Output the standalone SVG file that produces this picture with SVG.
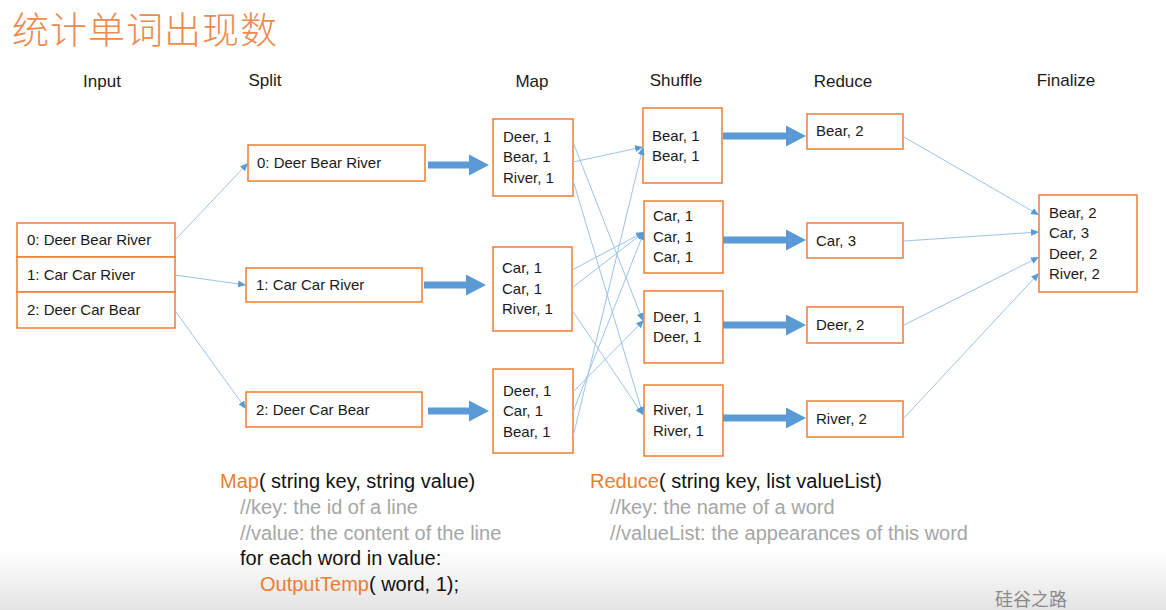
<svg xmlns="http://www.w3.org/2000/svg" width="1166" height="610" viewBox="0 0 1166 610">
<style>
.box{fill:#fff;stroke:#ED7D31;stroke-width:1.5}
.t{font-family:"Liberation Sans",Arial,sans-serif;font-size:15px;fill:#1a1a1a}
.h{font-family:"Liberation Sans",Arial,sans-serif;font-size:17px;fill:#1a1a1a;text-anchor:middle}
.c{font-family:"Liberation Sans",Arial,sans-serif;font-size:20px;fill:#111}
.g{fill:#a6a6a6}
.o{fill:#ED7D31}
.ln{stroke:#9dc3e6;stroke-width:1;fill:none;marker-end:url(#ah)}
.fat{fill:#5b9bd5}
</style>
<defs>
<marker id="ah" markerUnits="userSpaceOnUse" markerWidth="9" markerHeight="8" refX="8" refY="4" orient="auto">
<path d="M0,0.5 L8,4 L0,7.5 Z" fill="#5b9bd5"/>
</marker>
<linearGradient id="bg" x1="0" y1="0" x2="0" y2="1">
<stop offset="0" stop-color="#ffffff"/>
<stop offset="1" stop-color="#e4e4e4"/>
</linearGradient>
</defs>
<rect x="0" y="0" width="1166" height="610" fill="#fff"/>
<rect x="0" y="550" width="1166" height="60" fill="url(#bg)"/>

<text x="12" y="44" font-family="'Noto Sans CJK SC',sans-serif" font-weight="300" font-size="37" letter-spacing="1" fill="#EE8A4E">统计单词出现数</text>

<g id="headers">
<text class="h" x="102" y="87">Input</text>
<text class="h" x="265" y="86">Split</text>
<text class="h" x="532" y="87">Map</text>
<text class="h" x="676" y="86">Shuffle</text>
<text class="h" x="843" y="87">Reduce</text>
<text class="h" x="1066" y="86">Finalize</text>
</g>

<g id="input">
<rect class="box" x="17" y="223" width="158" height="34"/>
<rect class="box" x="17" y="257" width="158" height="35"/>
<rect class="box" x="17" y="292" width="158" height="36"/>
<text class="t" x="27" y="245">0: Deer Bear River</text>
<text class="t" x="27" y="280">1: Car Car River</text>
<text class="t" x="27" y="315">2: Deer Car Bear</text>
</g>

<g id="split0"><rect class="box" x="248" y="145" width="177" height="36"/><text class="t" x="257" y="168">0: Deer Bear River</text></g>
<g id="split1"><rect class="box" x="246" y="268" width="176" height="34"/><text class="t" x="256" y="290">1: Car Car River</text></g>
<g id="split2"><rect class="box" x="246" y="392" width="176" height="35"/><text class="t" x="256" y="415">2: Deer Car Bear</text></g>

<g id="map1"><rect class="box" x="493" y="119" width="80" height="77"/>
<text class="t" x="503" y="142">Deer, 1</text><text class="t" x="503" y="162">Bear, 1</text><text class="t" x="503" y="183">River, 1</text></g>
<g id="map2"><rect class="box" x="493" y="247" width="79" height="84"/>
<text class="t" x="502" y="273">Car, 1</text><text class="t" x="502" y="294">Car, 1</text><text class="t" x="502" y="314">River, 1</text></g>
<g id="map3"><rect class="box" x="493" y="369" width="80" height="84"/>
<text class="t" x="503" y="396">Deer, 1</text><text class="t" x="503" y="416">Car, 1</text><text class="t" x="503" y="437">Bear, 1</text></g>

<g id="shuf1"><rect class="box" x="643" y="108" width="79" height="75"/>
<text class="t" x="652" y="141">Bear, 1</text><text class="t" x="652" y="161">Bear, 1</text></g>
<g id="shuf2"><rect class="box" x="644" y="201" width="79" height="72"/>
<text class="t" x="653" y="221">Car, 1</text><text class="t" x="653" y="242">Car, 1</text><text class="t" x="653" y="262">Car, 1</text></g>
<g id="shuf3"><rect class="box" x="644" y="291" width="79" height="72"/>
<text class="t" x="653" y="322">Deer, 1</text><text class="t" x="653" y="342">Deer, 1</text></g>
<g id="shuf4"><rect class="box" x="644" y="385" width="79" height="71"/>
<text class="t" x="653" y="415">River, 1</text><text class="t" x="653" y="436">River, 1</text></g>

<g id="red1"><rect class="box" x="807" y="114" width="96" height="35"/><text class="t" x="816" y="136">Bear, 2</text></g>
<g id="red2"><rect class="box" x="807" y="223" width="96" height="35"/><text class="t" x="816" y="246">Car, 3</text></g>
<g id="red3"><rect class="box" x="807" y="307" width="96" height="36"/><text class="t" x="816" y="330">Deer, 2</text></g>
<g id="red4"><rect class="box" x="807" y="401" width="96" height="36"/><text class="t" x="816" y="424">River, 2</text></g>

<g id="final"><rect class="box" x="1039" y="195" width="98" height="97"/>
<text class="t" x="1049" y="218">Bear, 2</text><text class="t" x="1049" y="238">Car, 3</text><text class="t" x="1049" y="259">Deer, 2</text><text class="t" x="1049" y="279">River, 2</text></g>

<g id="connectors">
<line class="ln" x1="175" y1="240" x2="248" y2="163"/>
<line class="ln" x1="175" y1="275" x2="246" y2="285"/>
<line class="ln" x1="176" y1="312" x2="246" y2="409"/>

<polygon class="fat" points="428,161.5 469,161.5 469,154.5 489,165 469,175.5 469,168.5 428,168.5"/>
<polygon class="fat" points="424,281.5 466,281.5 466,274.5 486,285 466,295.5 466,288.5 424,288.5"/>
<polygon class="fat" points="428,407.5 469,407.5 469,400.5 489,411 469,421.5 469,414.5 428,414.5"/>

<line class="ln" x1="573" y1="162" x2="643" y2="147"/>
<line class="ln" x1="573" y1="142" x2="643" y2="321"/>
<line class="ln" x1="573" y1="180" x2="643" y2="415"/>
<line class="ln" x1="572" y1="270" x2="644" y2="232"/>
<line class="ln" x1="572" y1="288" x2="644" y2="232"/>
<line class="ln" x1="572" y1="310" x2="643" y2="415"/>
<line class="ln" x1="573" y1="392" x2="644" y2="320"/>
<line class="ln" x1="573" y1="412" x2="644" y2="232"/>
<line class="ln" x1="573" y1="437" x2="643" y2="147"/>

<polygon class="fat" points="723,132.5 786,132.5 786,125.5 806,136 786,146.5 786,139.5 723,139.5"/>
<polygon class="fat" points="723,236.5 786,236.5 786,229.5 806,240 786,250.5 786,243.5 723,243.5"/>
<polygon class="fat" points="723,321.5 786,321.5 786,314.5 806,325 786,335.5 786,328.5 723,328.5"/>
<polygon class="fat" points="723,414.5 786,414.5 786,407.5 806,418 786,428.5 786,421.5 723,421.5"/>

<line class="ln" x1="904" y1="137" x2="1039" y2="215"/>
<line class="ln" x1="904" y1="241" x2="1039" y2="232"/>
<line class="ln" x1="904" y1="325" x2="1039" y2="257"/>
<line class="ln" x1="904" y1="418" x2="1039" y2="273"/>
</g>

<g id="code">
<text class="c" x="220" y="488"><tspan class="o">Map</tspan>( string key, string value)</text>
<text class="c g" x="240" y="514">//key: the id of a line</text>
<text class="c g" x="240" y="540">//value: the content of the line</text>
<text class="c" x="240" y="565">for each word in value:</text>
<text class="c" x="260" y="591"><tspan class="o">OutputTemp</tspan>( word, 1);</text>
<text class="c" x="590" y="488"><tspan class="o">Reduce</tspan>( string key, list valueList)</text>
<text class="c g" x="610" y="514">//key: the name of a word</text>
<text class="c g" x="610" y="540">//valueList: the appearances of this word</text>
</g>

<text x="995" y="606" font-family="'Noto Sans CJK SC',sans-serif" font-size="18" fill="#8a8a8a">硅谷之路</text>
</svg>
